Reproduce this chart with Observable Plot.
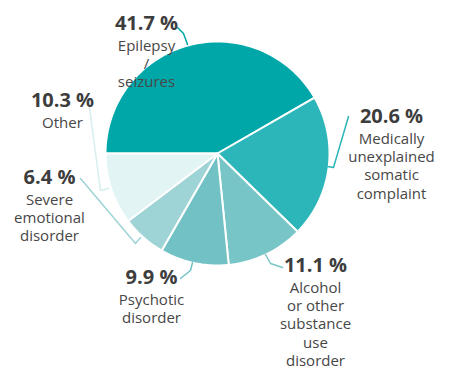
<!DOCTYPE html>
<html>
<head>
<meta charset="utf-8">
<script src="https://cdn.jsdelivr.net/npm/d3@7"></script>
<script src="https://cdn.jsdelivr.net/npm/@observablehq/plot@0.6"></script>
<style>
  html, body { margin: 0; padding: 0; background: #fff; }
  svg { display: block; }
</style>
</head>
<body>
<div id="chart"></div>
<script>
// ---- data ----
const categories = [
  "Epilepsy / seizures",
  "Medically unexplained somatic complaint",
  "Alcohol or other substance use disorder",
  "Psychotic disorder",
  "Severe emotional disorder",
  "Other"
];
const values = [41.7, 20.6, 11.1, 9.9, 6.4, 10.3];
const labelLines = [
  "Epilepsy\n/\nseizures",
  "Medically\nunexplained\nsomatic\ncomplaint",
  "Alcohol\nor other\nsubstance\nuse\ndisorder",
  "Psychotic\ndisorder",
  "Severe\nemotional\ndisorder",
  "Other"
];
const colors = ["#00a7a9", "#2cb6b9", "#78c5c7", "#72c2c5", "#9fd4d6", "#e2f4f4"];
const leaderColors = ["#00a7a9", "#2cb6b9", "#78c5c7", "#72c2c5", "#9fd4d6", "#d6eeee"];

// ---- layout (pixels) ----
const W = 452, H = 369;
const cx = 217, cy = 153, R = 112;
const pctPos  = [[146, 23], [391, 116], [315, 265], [151, 277], [49, 177], [62, 100]];
const namePos = [[146, 46], [391, 139], [315, 288], [151, 300], [49, 200], [62, 123]];
const leaders = [
  [[177, 27], [183, 33], [187, 44]],
  [[348, 116], [333, 167], [327, 166]],
  [[282, 267], [270, 263], [265, 254]],
  [[180, 278], [190, 270], [192, 262]],
  [[80, 178], [135, 243], [140, 237]],
  [[89, 107], [100, 190], [108, 188]]
];

// ---- build slices ----
const arcs = d3.pie().sort(null).startAngle(-Math.PI / 2).endAngle(1.5 * Math.PI)(values);
const slicePts = [];
arcs.forEach((a, i) => {
  slicePts.push({cat: categories[i], x: 0, y: 0});
  const n = Math.max(4, Math.ceil((a.endAngle - a.startAngle) / (Math.PI / 180)));
  for (let k = 0; k <= n; k++) {
    const t = a.startAngle + (a.endAngle - a.startAngle) * k / n;
    slicePts.push({cat: categories[i], x: R * Math.sin(t), y: -R * Math.cos(t)});
  }
});
const leaderPts = [];
leaders.forEach((pts, i) => pts.forEach(([px, py]) => leaderPts.push({cat: categories[i], x: px - cx, y: py - cy, c: leaderColors[i]})));
const pctData = values.map((v, i) => ({text: v.toFixed(1) + " %", x: pctPos[i][0] - cx, y: pctPos[i][1] - cy}));
const nameData = labelLines.map((t, i) => ({text: t, x: namePos[i][0] - cx, y: namePos[i][1] - cy}));

const chart = Plot.plot({
  width: W, height: H,
  margin: 0,
  x: {domain: [-cx, W - cx], range: [0, W], axis: null},
  y: {domain: [-cy, H - cy], range: [0, H], axis: null},
  color: {domain: categories, range: colors},
  style: {fontFamily: "'Open Sans', sans-serif", background: "#fff"},
  marks: [
    Plot.line(slicePts, {x: "x", y: "y", z: "cat", fill: "cat", stroke: "white", strokeWidth: 2, curve: "linear-closed", strokeLinejoin: "round"}),
    Plot.line(leaderPts, {x: "x", y: "y", z: "cat", stroke: "c", strokeWidth: 1.5}),
    Plot.text(pctData, {x: "x", y: "y", text: "text", fontSize: 20, fontWeight: "bold", fill: "#3d3d3d"}),
    Plot.text(nameData, {x: "x", y: "y", text: "text", fontSize: 15, fill: "#474747", lineAnchor: "top", dy: -9, lineHeight: 1.23})
  ]
});
document.getElementById("chart").appendChild(chart);
</script>
</body>
</html>
